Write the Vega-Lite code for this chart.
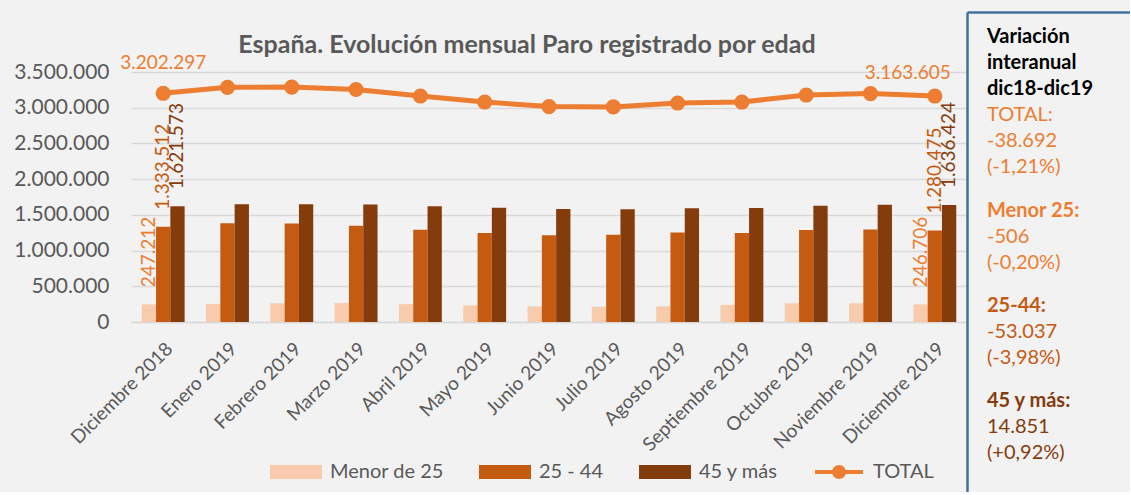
{
  "$schema": "https://vega.github.io/schema/vega-lite/v6.json",
  "background": "#f2f2f2",
  "padding": {"left": 13, "top": 12, "right": 0, "bottom": 0},
  "datasets": {
    "paro": [
      {"mes": "Diciembre 2018", "serie": "Menor de 25", "valor": 247212},
      {"mes": "Diciembre 2018", "serie": "25 - 44", "valor": 1333512},
      {"mes": "Diciembre 2018", "serie": "45 y más", "valor": 1621573},
      {"mes": "Diciembre 2018", "serie": "TOTAL", "valor": 3202297},
      {"mes": "Enero 2019", "serie": "Menor de 25", "valor": 253000},
      {"mes": "Enero 2019", "serie": "25 - 44", "valor": 1383000},
      {"mes": "Enero 2019", "serie": "45 y más", "valor": 1650000},
      {"mes": "Enero 2019", "serie": "TOTAL", "valor": 3285761},
      {"mes": "Febrero 2019", "serie": "Menor de 25", "valor": 262000},
      {"mes": "Febrero 2019", "serie": "25 - 44", "valor": 1378000},
      {"mes": "Febrero 2019", "serie": "45 y más", "valor": 1649000},
      {"mes": "Febrero 2019", "serie": "TOTAL", "valor": 3289040},
      {"mes": "Marzo 2019", "serie": "Menor de 25", "valor": 265000},
      {"mes": "Marzo 2019", "serie": "25 - 44", "valor": 1346000},
      {"mes": "Marzo 2019", "serie": "45 y más", "valor": 1644000},
      {"mes": "Marzo 2019", "serie": "TOTAL", "valor": 3255084},
      {"mes": "Abril 2019", "serie": "Menor de 25", "valor": 250000},
      {"mes": "Abril 2019", "serie": "25 - 44", "valor": 1293000},
      {"mes": "Abril 2019", "serie": "45 y más", "valor": 1621000},
      {"mes": "Abril 2019", "serie": "TOTAL", "valor": 3163566},
      {"mes": "Mayo 2019", "serie": "Menor de 25", "valor": 232000},
      {"mes": "Mayo 2019", "serie": "25 - 44", "valor": 1247000},
      {"mes": "Mayo 2019", "serie": "45 y más", "valor": 1600000},
      {"mes": "Mayo 2019", "serie": "TOTAL", "valor": 3079491},
      {"mes": "Junio 2019", "serie": "Menor de 25", "valor": 218000},
      {"mes": "Junio 2019", "serie": "25 - 44", "valor": 1216000},
      {"mes": "Junio 2019", "serie": "45 y más", "valor": 1582000},
      {"mes": "Junio 2019", "serie": "TOTAL", "valor": 3015686},
      {"mes": "Julio 2019", "serie": "Menor de 25", "valor": 214000},
      {"mes": "Julio 2019", "serie": "25 - 44", "valor": 1220000},
      {"mes": "Julio 2019", "serie": "45 y más", "valor": 1577000},
      {"mes": "Julio 2019", "serie": "TOTAL", "valor": 3011433},
      {"mes": "Agosto 2019", "serie": "Menor de 25", "valor": 220000},
      {"mes": "Agosto 2019", "serie": "25 - 44", "valor": 1254000},
      {"mes": "Agosto 2019", "serie": "45 y más", "valor": 1592000},
      {"mes": "Agosto 2019", "serie": "TOTAL", "valor": 3065804},
      {"mes": "Septiembre 2019", "serie": "Menor de 25", "valor": 240000},
      {"mes": "Septiembre 2019", "serie": "25 - 44", "valor": 1245000},
      {"mes": "Septiembre 2019", "serie": "45 y más", "valor": 1595000},
      {"mes": "Septiembre 2019", "serie": "TOTAL", "valor": 3079711},
      {"mes": "Octubre 2019", "serie": "Menor de 25", "valor": 262000},
      {"mes": "Octubre 2019", "serie": "25 - 44", "valor": 1289000},
      {"mes": "Octubre 2019", "serie": "45 y más", "valor": 1627000},
      {"mes": "Octubre 2019", "serie": "TOTAL", "valor": 3177659},
      {"mes": "Noviembre 2019", "serie": "Menor de 25", "valor": 262000},
      {"mes": "Noviembre 2019", "serie": "25 - 44", "valor": 1296000},
      {"mes": "Noviembre 2019", "serie": "45 y más", "valor": 1640000},
      {"mes": "Noviembre 2019", "serie": "TOTAL", "valor": 3198184},
      {"mes": "Diciembre 2019", "serie": "Menor de 25", "valor": 246706},
      {"mes": "Diciembre 2019", "serie": "25 - 44", "valor": 1280475},
      {"mes": "Diciembre 2019", "serie": "45 y más", "valor": 1636424},
      {"mes": "Diciembre 2019", "serie": "TOTAL", "valor": 3163605}
    ],
    "panel": [
      {"linea": 0, "grupo": "encabezado", "tipo": "título", "texto": "Variación"},
      {"linea": 1, "grupo": "encabezado", "tipo": "título", "texto": "interanual"},
      {"linea": 2, "grupo": "encabezado", "tipo": "título", "texto": "dic18-dic19"},
      {"linea": 3, "grupo": "TOTAL", "tipo": "valor", "texto": "TOTAL:"},
      {"linea": 4, "grupo": "TOTAL", "tipo": "valor", "texto": "-38.692"},
      {"linea": 5, "grupo": "TOTAL", "tipo": "valor", "texto": "(-1,21%)"},
      {"linea": 6.67, "grupo": "Menor 25", "tipo": "título", "texto": "Menor 25:"},
      {"linea": 7.67, "grupo": "Menor 25", "tipo": "valor", "texto": "-506"},
      {"linea": 8.67, "grupo": "Menor 25", "tipo": "valor", "texto": "(-0,20%)"},
      {"linea": 10.35, "grupo": "25-44", "tipo": "título", "texto": "25-44:"},
      {"linea": 11.35, "grupo": "25-44", "tipo": "valor", "texto": "-53.037"},
      {"linea": 12.35, "grupo": "25-44", "tipo": "valor", "texto": "(-3,98%)"},
      {"linea": 14, "grupo": "45 y más", "tipo": "título", "texto": "45 y más:"},
      {"linea": 15, "grupo": "45 y más", "tipo": "valor", "texto": "14.851"},
      {"linea": 16, "grupo": "45 y más", "tipo": "valor", "texto": "(+0,92%)"}
    ]
  },
  "hconcat": [
    {
      "width": 836,
      "height": 310,
      "data": {"name": "paro"},
      "title": {
        "text": "España. Evolución mensual Paro registrado por edad",
        "font": "Lato", "fontSize": 25, "fontWeight": "bold", "color": "#595959",
        "frame": "group", "anchor": "middle", "offset": -66, "baseline": "alphabetic", "dx": -22
      },
      "layer": [
        {
          "transform": [{"filter": "datum.serie !== 'TOTAL'"}],
          "mark": {"type": "bar"},
          "encoding": {
            "x": {
              "field": "mes", "type": "nominal",
              "sort": ["Diciembre 2018", "Enero 2019", "Febrero 2019", "Marzo 2019", "Abril 2019", "Mayo 2019", "Junio 2019", "Julio 2019", "Agosto 2019", "Septiembre 2019", "Octubre 2019", "Noviembre 2019", "Diciembre 2019"],
              "scale": {"paddingInner": 0.333, "paddingOuter": 0.167},
              "axis": {"title": null, "labelAngle": -45, "labelFontSize": 19, "labelPadding": 17, "ticks": false, "grid": false, "domainColor": "#d9d9d9", "domainWidth": 1.5}
            },
            "xOffset": {"field": "serie", "type": "nominal", "sort": ["Menor de 25", "25 - 44", "45 y más"]},
            "y": {
              "field": "valor", "type": "quantitative",
              "scale": {"domain": [0, 4340000], "nice": false},
              "axis": {"title": null, "values": [0, 500000, 1000000, 1500000, 2000000, 2500000, 3000000, 3500000], "format": ",d", "labelFontSize": 21, "labelPadding": 22, "ticks": false, "domain": false, "gridColor": "#d9d9d9", "gridWidth": 1.5}
            },
            "color": {
              "field": "serie", "type": "nominal",
              "scale": {"domain": ["Menor de 25", "25 - 44", "45 y más", "TOTAL"], "range": ["#f8cbad", "#c55a11", "#843c0c", "#ed7d31"]},
              "legend": {
                "orient": "none", "legendX": 155, "legendY": 450, "direction": "horizontal", "title": null,
                "symbolSize": 196, "labelFont": "Lato", "labelFontSize": 20, "labelColor": "#595959", "labelOffset": 24, "columnPadding": 28, "labelLimit": 300,
                "encode": {
                  "symbols": {
                    "update": {
                      "shape": {"signal": "datum.label === 'TOTAL' ? 'M-3.43,0H3.43M0.71,0A0.71,0.71,0,1,1,-0.71,0A0.71,0.71,0,1,1,0.71,0Z' : 'M-3.43,-0.71H3.43V0.71H-3.43Z'"},
                      "fill": {"signal": "datum.label === 'Menor de 25' ? '#f8cbad' : datum.label === '25 - 44' ? '#c55a11' : datum.label === '45 y más' ? '#843c0c' : '#ed7d31'"},
                      "stroke": {"signal": "datum.label === 'Menor de 25' ? '#f8cbad' : datum.label === '25 - 44' ? '#c55a11' : datum.label === '45 y más' ? '#843c0c' : '#ed7d31'"},
                      "strokeWidth": {"value": 4},
                      "opacity": {"value": 1},
                      "fillOpacity": {"value": 1},
                      "strokeOpacity": {"value": 1}
                    }
                  }
                }
              }
            }
          }
        },
        {
          "transform": [{"filter": "datum.serie !== 'TOTAL' && (datum.mes === 'Diciembre 2018' || datum.mes === 'Diciembre 2019')"}],
          "mark": {"type": "text", "angle": 270, "align": "left", "baseline": "middle", "dx": 17, "font": "Lato", "fontSize": 19},
          "encoding": {
            "x": {"field": "mes", "type": "nominal", "sort": ["Diciembre 2018", "Enero 2019", "Febrero 2019", "Marzo 2019", "Abril 2019", "Mayo 2019", "Junio 2019", "Julio 2019", "Agosto 2019", "Septiembre 2019", "Octubre 2019", "Noviembre 2019", "Diciembre 2019"]},
            "xOffset": {"field": "serie", "type": "nominal", "sort": ["Menor de 25", "25 - 44", "45 y más"]},
            "y": {"field": "valor", "type": "quantitative"},
            "text": {"field": "valor", "type": "quantitative", "format": ",d"},
            "fill": {"field": "serie", "type": "nominal", "scale": {"domain": ["Menor de 25", "25 - 44", "45 y más"], "range": ["#ed7d31", "#c55a11", "#843c0c"]}, "legend": null}
          }
        },
        {
          "transform": [{"filter": "datum.serie === 'TOTAL'"}],
          "mark": {"type": "line", "strokeWidth": 5, "point": {"filled": true, "size": 230}},
          "encoding": {
            "x": {"field": "mes", "type": "nominal", "sort": ["Diciembre 2018", "Enero 2019", "Febrero 2019", "Marzo 2019", "Abril 2019", "Mayo 2019", "Junio 2019", "Julio 2019", "Agosto 2019", "Septiembre 2019", "Octubre 2019", "Noviembre 2019", "Diciembre 2019"]},
            "y": {"field": "valor", "type": "quantitative"},
            "color": {"field": "serie", "type": "nominal"}
          }
        },
        {
          "transform": [{"filter": "datum.serie === 'TOTAL' && datum.mes === 'Diciembre 2018'"}],
          "mark": {"type": "text", "align": "center", "baseline": "alphabetic", "dy": -24, "font": "Lato", "fontSize": 19, "color": "#ed7d31"},
          "encoding": {
            "x": {"field": "mes", "type": "nominal", "sort": ["Diciembre 2018", "Enero 2019", "Febrero 2019", "Marzo 2019", "Abril 2019", "Mayo 2019", "Junio 2019", "Julio 2019", "Agosto 2019", "Septiembre 2019", "Octubre 2019", "Noviembre 2019", "Diciembre 2019"]},
            "y": {"field": "valor", "type": "quantitative"},
            "text": {"field": "valor", "type": "quantitative", "format": ",d"}
          }
        },
        {
          "transform": [{"filter": "datum.serie === 'TOTAL' && datum.mes === 'Diciembre 2019'"}],
          "mark": {"type": "text", "align": "right", "baseline": "alphabetic", "dx": 16, "dy": -17, "font": "Lato", "fontSize": 19, "color": "#ed7d31"},
          "encoding": {
            "x": {"field": "mes", "type": "nominal", "sort": ["Diciembre 2018", "Enero 2019", "Febrero 2019", "Marzo 2019", "Abril 2019", "Mayo 2019", "Junio 2019", "Julio 2019", "Agosto 2019", "Septiembre 2019", "Octubre 2019", "Noviembre 2019", "Diciembre 2019"]},
            "y": {"field": "valor", "type": "quantitative"},
            "text": {"field": "valor", "type": "quantitative", "format": ",d"}
          }
        }
      ]
    },
    {
      "width": 163,
      "height": 480,
      "data": {"name": "panel"},
      "encoding": {
        "x": {"datum": 0.1227, "type": "quantitative", "scale": {"domain": [0, 1], "nice": false, "zero": false},
              "axis": {"orient": "top", "title": null, "labels": false, "ticks": false, "grid": false, "domainColor": "#41719c", "domainWidth": 2.5}},
        "y": {"field": "linea", "type": "quantitative", "scale": {"domain": [-0.969, 17.5], "reverse": true, "nice": false, "zero": false},
              "axis": {"orient": "left", "title": null, "labels": false, "ticks": false, "grid": false, "domainColor": "#41719c", "domainWidth": 2.5}},
        "text": {"field": "texto", "type": "nominal"},
        "color": {"field": "grupo", "type": "nominal", "scale": {"domain": ["encabezado", "TOTAL", "Menor 25", "25-44", "45 y más"], "range": ["#000000", "#ed7d31", "#ed7d31", "#c55a11", "#843c0c"]}, "legend": null}
      },
      "layer": [
        {
          "transform": [{"filter": "datum.tipo === 'título'"}],
          "mark": {"type": "text", "align": "left", "baseline": "middle", "font": "Lato", "fontSize": 20, "fontWeight": "bold"}
        },
        {
          "transform": [{"filter": "datum.tipo === 'valor'"}],
          "mark": {"type": "text", "align": "left", "baseline": "middle", "font": "Lato", "fontSize": 20}
        }
      ]
    }
  ],
  "spacing": 0,
  "bounds": "flush",
  "resolve": {"scale": {"color": "independent", "x": "independent", "y": "independent"}, "legend": {"color": "independent"}},
  "config": {
    "view": {"stroke": null},
    "axis": {"labelFont": "Lato", "labelColor": "#595959"},
    "locale": {"number": {"decimal": ",", "thousands": ".", "grouping": [3], "currency": ["", " €"]}}
  }
}
